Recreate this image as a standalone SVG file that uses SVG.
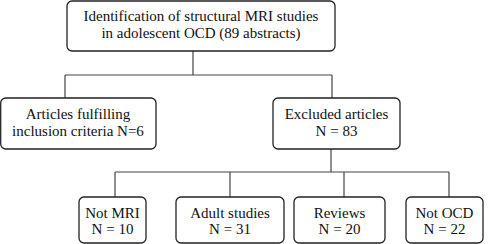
<svg xmlns="http://www.w3.org/2000/svg" width="490" height="244" viewBox="0 0 490 244">
<style>
.box{fill:#fff;stroke:#222;stroke-width:1.3}
.t{font-family:'Liberation Serif','Times New Roman',serif;font-size:15px;fill:#111;text-anchor:middle}
.c{fill:none;stroke:#444;stroke-width:1.2}
</style>
<rect width="490" height="244" fill="#fff"/>
<g id="connectors">
<path class="c" d="M193 51V75M65 75H332M65 75V98M332 75V98"/>
<path class="c" d="M331 149V172M115 172H449M115 172V197M230 172V197M344 172V197M449 172V197"/>
</g>
<g id="n-identification">
<rect class="box" x="67" y="1" width="268" height="50" rx="5"/>
<text class="t" x="201" y="20.5">Identification of structural MRI studies</text>
<text class="t" x="201" y="38">in adolescent OCD (89 abstracts)</text>
</g>
<g id="n-included">
<rect class="box" x="0.7" y="98" width="155.3" height="51" rx="5"/>
<text class="t" x="78" y="119">Articles fulfilling</text>
<text class="t" x="78" y="135.5">inclusion criteria N=6</text>
</g>
<g id="n-excluded">
<rect class="box" x="273" y="98" width="127" height="51" rx="5"/>
<text class="t" x="336.5" y="119">Excluded articles</text>
<text class="t" x="336.5" y="135.5">N = 83</text>
</g>
<g id="n-notmri">
<rect class="box" x="79" y="197" width="67" height="46" rx="5"/>
<text class="t" x="112.5" y="217.5">Not MRI</text>
<text class="t" x="112.5" y="233.5">N = 10</text>
</g>
<g id="n-adult">
<rect class="box" x="176" y="197" width="108" height="46" rx="5"/>
<text class="t" x="230" y="217.5">Adult studies</text>
<text class="t" x="230" y="233.5">N = 31</text>
</g>
<g id="n-reviews">
<rect class="box" x="294" y="197" width="91" height="46" rx="5"/>
<text class="t" x="339.5" y="217.5">Reviews</text>
<text class="t" x="339.5" y="233.5">N = 20</text>
</g>
<g id="n-notocd">
<rect class="box" x="406" y="197" width="77" height="46" rx="5"/>
<text class="t" x="444.5" y="217.5">Not OCD</text>
<text class="t" x="444.5" y="233.5">N = 22</text>
</g>
</svg>
